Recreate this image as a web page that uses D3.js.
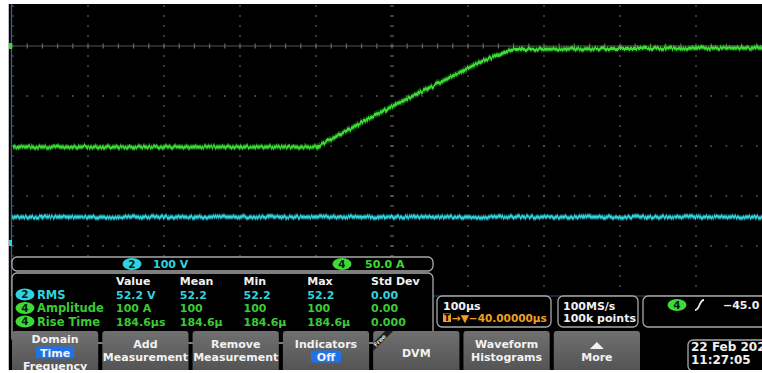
<!DOCTYPE html>
<html>
<head>
<meta charset="utf-8">
<script src="https://cdn.jsdelivr.net/npm/d3@7"></script>
<style>
body { margin: 0; background: #fff; }
svg { display: block; }
text { font-family: "DejaVu Sans", sans-serif; font-weight: bold; }
</style>
</head>
<body>
<div id="scope"></div>
<script>
// key points of the two traces (time in us from centre)
var ch4Time = [-500, -99, -12, 72, 116, 149, 162, 300, 500];
var ch4Amps = [-101, -101, -65, -33, -16, -6, -3.5, -2.5, -2];
var ch2Time = [-500, 500];
var ch2Volts = [52, 52];

var chanScales = [["2", "100 V"], ["4", "50.0 A"]];
var measHeaders = ["Value", "Mean", "Min", "Max", "Std Dev"];
var measNames = ["RMS", "Amplitude", "Rise Time"];
var measChan = ["2", "4", "4"];
var measValues = [
    ["52.2 V", "52.2", "52.2", "52.2", "0.00"],
    ["100 A", "100", "100", "100", "0.00"],
    ["184.6µs", "184.6µ", "184.6µ", "184.6µ", "0.000"]];
var horizText = ["100µs", "→▼−40.00000µs"];
var acqText = ["100MS/s", "100k points"];
var trigText = "−45.0 A";
var dateText = ["22 Feb 2022", "11:27:05"];
var buttons = [["Domain", "Time", "Frequency"], ["Add", "Measurement"], ["Remove", "Measurement"],
    ["Indicators", "Off"], ["DVM"], ["Waveform", "Histograms"], ["More"]];

var W = 762, H = 373;
var green = "#3ddc35", cyan = "#2fd3df", grat = "#55554a";

var svg = d3.select("#scope").append("svg")
    .attr("width", W).attr("height", H);

var defs = svg.append("defs");
var f = defs.append("filter").attr("id", "noise")
    .attr("filterUnits", "userSpaceOnUse")
    .attr("x", 0).attr("y", 0).attr("width", W).attr("height", H);
f.append("feTurbulence").attr("type", "fractalNoise")
    .attr("baseFrequency", "0.7 0.03").attr("numOctaves", 1).attr("seed", 4).attr("result", "t");
f.append("feDisplacementMap").attr("in", "SourceGraphic").attr("in2", "t")
    .attr("scale", 5).attr("xChannelSelector", "R").attr("yChannelSelector", "G");
var grad = defs.append("linearGradient").attr("id", "btn").attr("x1", 0).attr("x2", 0).attr("y1", 0).attr("y2", 1);
grad.append("stop").attr("offset", 0).attr("stop-color", "#707070");
grad.append("stop").attr("offset", 1).attr("stop-color", "#4c4c4c");

// screen
svg.append("rect").attr("x", 8.5).attr("y", 4).attr("width", W).attr("height", H).attr("fill", "#000");

// scales: 100 us/div, 50 A/div, 100 V/div
var xScale = d3.scaleLinear().domain([-500, 500]).range([12, 772]);
var yAmps = d3.scaleLinear().domain([0, -200]).range([46, 246]);
var yVolts = d3.scaleLinear().domain([0, 100]).range([243, 193]);

// graticule
var g = svg.append("g");
var divX = d3.range(-400, 500, 100).filter(function(d) { return d != 0; });
var dotY = d3.range(40, -260, -10);
divX.forEach(function(t) {
    g.selectAll(null).data(dotY).enter().append("rect")
        .attr("x", xScale(t) - 0.8).attr("y", function(a) { return yAmps(a) - 0.8; })
        .attr("width", 1.6).attr("height", 1.6).attr("fill", "#5a5a52");
});
var minorX = d3.range(-500, 520, 20);
[-50, -100, -150, -200].forEach(function(a) {
    g.selectAll(null).data(minorX).enter().append("rect")
        .attr("x", function(t) { return xScale(t) - 0.8; }).attr("y", yAmps(a) - 0.8)
        .attr("width", 1.6).attr("height", 1.6).attr("fill", "#5a5a52");
});
// centre lines with ticks
g.append("line").attr("x1", 12).attr("x2", W).attr("y1", yAmps(0)).attr("y2", yAmps(0))
    .attr("stroke", grat).attr("stroke-width", 1.2);
g.selectAll(null).data(minorX).enter().append("line")
    .attr("x1", function(t) { return xScale(t); }).attr("x2", function(t) { return xScale(t); })
    .attr("y1", yAmps(0) - 2.5).attr("y2", yAmps(0) + 2.5)
    .attr("stroke", "#6a6a5a").attr("stroke-width", 1.2);
g.selectAll(null).data(dotY).enter().append("line")
    .attr("x1", xScale(0) - 2).attr("x2", xScale(0) + 2)
    .attr("y1", function(a) { return yAmps(a); }).attr("y2", function(a) { return yAmps(a); })
    .attr("stroke", "#6a6a5a").attr("stroke-width", 1.2);
// left edge and bottom edge
g.append("line").attr("x1", 11.5).attr("x2", 11.5).attr("y1", 4).attr("y2", 296)
    .attr("stroke", "#3d6080").attr("stroke-width", 1.3);
g.selectAll(null).data(dotY).enter().append("line")
    .attr("x1", 11.5).attr("x2", 14)
    .attr("y1", function(a) { return yAmps(a); }).attr("y2", function(a) { return yAmps(a); })
    .attr("stroke", "#3d6080").attr("stroke-width", 1);
g.append("line").attr("x1", 12).attr("x2", W).attr("y1", yAmps(-250)).attr("y2", yAmps(-250))
    .attr("stroke", "#2f5070").attr("stroke-width", 1.2);

// ground markers
svg.append("rect").attr("x", 9).attr("y", yAmps(0) - 3).attr("width", 3).attr("height", 6).attr("fill", green);
svg.append("rect").attr("x", 9).attr("y", yVolts(0) - 3).attr("width", 3).attr("height", 6).attr("fill", cyan);

// traces
var ch4 = ch4Time.map(function(t, i) { return [t, ch4Amps[i]]; });
var ch2 = ch2Time.map(function(t, i) { return [t, ch2Volts[i]]; });
var line4 = d3.line().x(function(d) { return xScale(d[0]); }).y(function(d) { return yAmps(d[1]); });
var line2 = d3.line().x(function(d) { return xScale(d[0]); }).y(function(d) { return yVolts(d[1]); });
var tr = svg.append("g").attr("filter", "url(#noise)");
[[line2(ch2), cyan], [line4(ch4), green]].forEach(function(p) {
    tr.append("path").attr("d", p[0]).attr("fill", "none").attr("stroke", p[1])
        .attr("stroke-width", 6).attr("stroke-opacity", 0.3);
    tr.append("path").attr("d", p[0]).attr("fill", "none").attr("stroke", p[1])
        .attr("stroke-width", 3);
});

function badge(x, y, n, fill) {
    svg.append("ellipse").attr("cx", x).attr("cy", y).attr("rx", 9.5).attr("ry", 6).attr("fill", fill);
    svg.append("text").attr("x", x).attr("y", y + 3.8).attr("text-anchor", "middle")
        .attr("font-size", 10.5).attr("fill", "#06201a").text(n);
}
function box(x, y, w, h) {
    svg.append("rect").attr("x", x).attr("y", y).attr("width", w).attr("height", h).attr("rx", 5)
        .attr("fill", "#000").attr("stroke", "#a8a8a8").attr("stroke-width", 1.3);
}
function label(x, y, s, fill, size) {
    return svg.append("text").attr("x", x).attr("y", y).attr("font-size", size || 11)
        .attr("fill", fill).text(s);
}

// channel scale bar
box(12, 257, 421, 14);
badge(132, 264, chanScales[0][0], cyan);
label(153, 268, chanScales[0][1], cyan);
badge(342, 264, chanScales[1][0], green);
label(365, 268, chanScales[1][1], green);

// measurement table
box(12, 273, 421, 70);
var colX = d3.scalePoint().domain(measHeaders).range([116, 371]);
var rowY = d3.scalePoint().domain(["head"].concat(measNames)).range([285, 325.5]);
measHeaders.forEach(function(h) { label(colX(h), rowY("head"), h, "#f0f0f0"); });
measNames.forEach(function(m, i) {
    var c = measChan[i] == "2" ? cyan : "#3cc934";
    badge(25, rowY(m) - 4, measChan[i], measChan[i] == "2" ? cyan : green);
    label(37, rowY(m), m, c, 11.5);
    measValues[i].forEach(function(v, j) { label(colX(measHeaders[j]), rowY(m), v, c); });
});

// horizontal, acquisition, trigger
box(437, 296, 114, 31);
label(443, 310, horizText[0], "#f0f0f0");
svg.append("rect").attr("x", 443).attr("y", 313.5).attr("width", 8).attr("height", 8.5).attr("fill", "#f0a020");
svg.append("text").attr("x", 447).attr("y", 321).attr("text-anchor", "middle").attr("font-size", 8).attr("fill", "#000").text("T");
label(452, 321.5, horizText[1], "#f0a020", 10.5);
box(558, 296, 80, 31);
label(563, 310, acqText[0], "#f0f0f0");
label(563, 322, acqText[1], "#f0f0f0");
box(643, 296, 140, 31);
badge(677, 305, "4", green);
svg.append("path").attr("d", "M695,310 C700,310 699,300 704,300").attr("fill", "none")
    .attr("stroke", "#f0f0f0").attr("stroke-width", 1.8);
label(723, 309, trigText, "#f0f0f0");

// buttons
var bx = d3.scaleBand().domain(d3.range(buttons.length)).range([12, 640]).paddingInner(0.045);
buttons.forEach(function(b, i) {
    var x0 = bx(i), cx = x0 + bx.bandwidth() / 2;
    svg.append("rect").attr("x", x0).attr("y", 331).attr("width", bx.bandwidth()).attr("height", 50)
        .attr("rx", 3).attr("fill", "url(#btn)");
    var ys = b.length == 3 ? [343, 356.5, 369.5] : b.length == 2 ? [347.5, 360.5] : [357];
    if (b[0] == "More") ys = [361];
    b.forEach(function(s, k) {
        var hl = (b[0] == "Domain" && k == 1) || (b[0] == "Indicators" && k == 1);
        if (hl) {
            var w = s.length * 8 + 6;
            svg.append("rect").attr("x", cx - w / 2).attr("y", ys[k] - 10).attr("width", w).attr("height", 12)
                .attr("rx", 2).attr("fill", "#1f73ea");
        }
        svg.append("text").attr("x", cx).attr("y", ys[k]).attr("text-anchor", "middle")
            .attr("font-size", 11).attr("fill", "#f2f2f2").text(s);
    });
    if (b[0] == "More") {
        svg.append("path").attr("d", "M" + (cx - 7) + ",349 L" + (cx + 7) + ",349 L" + cx + ",342 Z").attr("fill", "#f2f2f2");
    }
    if (b[0] == "DVM") {
        svg.append("path").attr("d", "M" + x0 + ",343 L" + (x0 + 12) + ",331 L" + (x0 + 20) + ",331 L" + x0 + ",351 Z")
            .attr("fill", "#1c1c1c");
        svg.append("text").attr("transform", "translate(" + (x0 + 8) + "," + 342 + ") rotate(-45)")
            .attr("text-anchor", "middle").attr("font-size", 6).attr("fill", "#e0e0e0").text("Free");
    }
});

// date
box(688, 340, 90, 31);
svg.append("text").attr("x", 691).attr("y", 351).attr("font-size", 12)
    .attr("font-family", "DejaVu Sans Mono").attr("fill", "#f0f0f0").text(dateText[0]);
svg.append("text").attr("x", 691).attr("y", 364).attr("font-size", 12)
    .attr("font-family", "DejaVu Sans Mono").attr("fill", "#f0f0f0").text(dateText[1]);

// white photo border
svg.append("rect").attr("x", 0).attr("y", 0).attr("width", W).attr("height", 4).attr("fill", "#fff");
svg.append("rect").attr("x", 0).attr("y", 0).attr("width", 8.5).attr("height", H).attr("fill", "#fff");
svg.append("rect").attr("x", 0).attr("y", 370).attr("width", W).attr("height", 3).attr("fill", "#fff");
</script>
</body>
</html>
